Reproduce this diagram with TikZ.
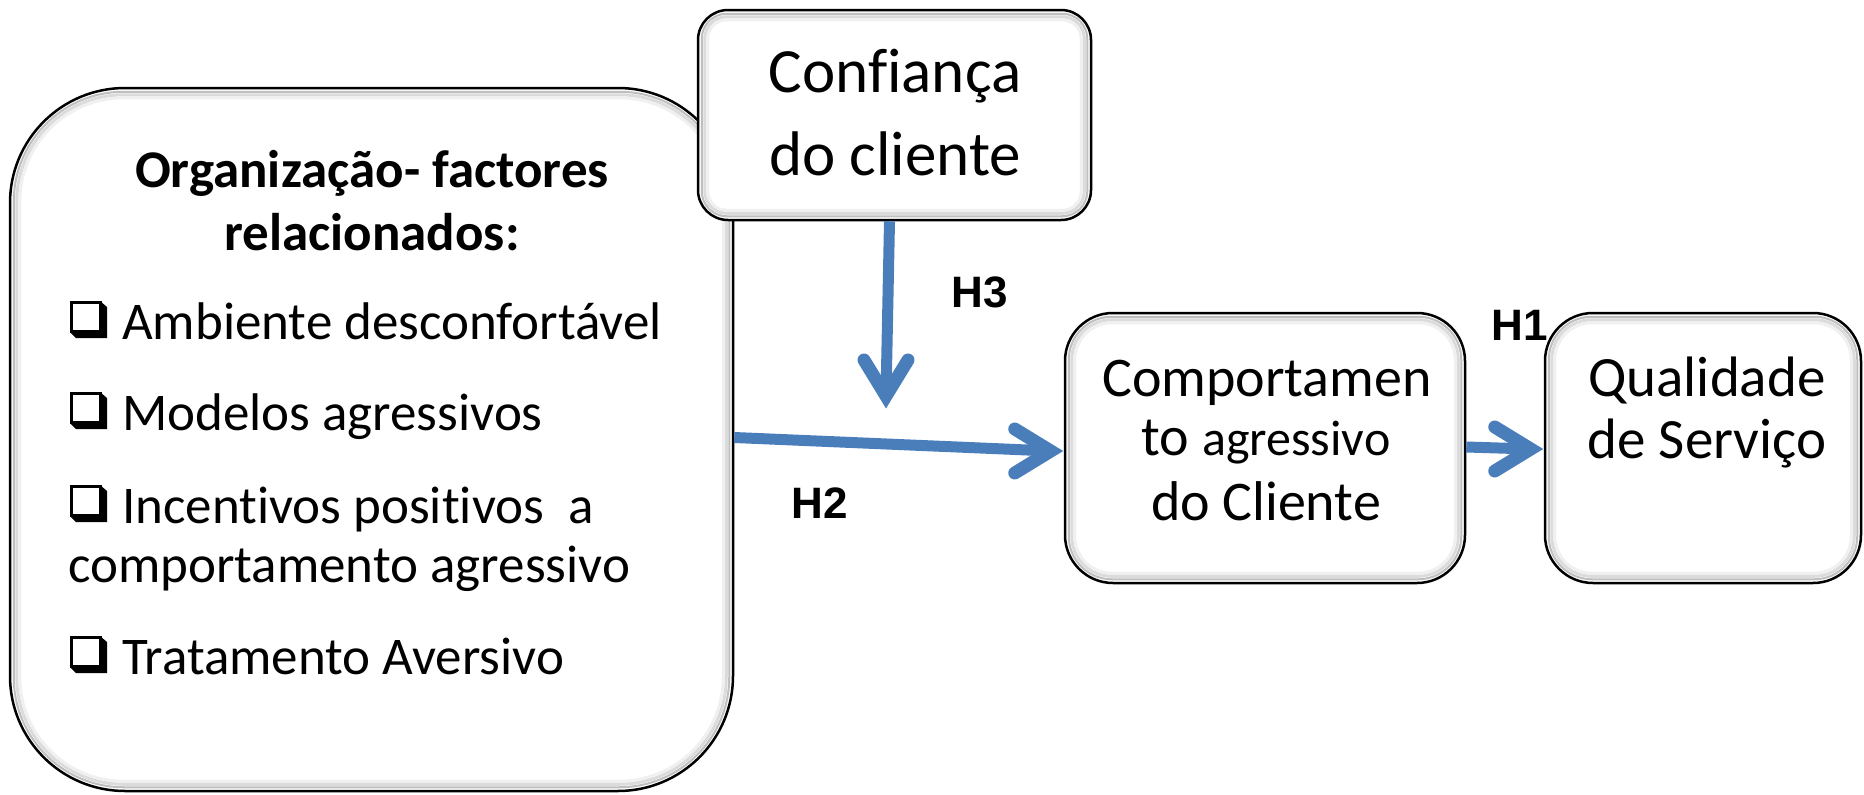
\documentclass[tikz,border=0pt]{standalone}
\usepackage{fontspec}
\setmainfont{Carlito}[Ligatures=NoCommon]
\newfontfamily\hfont{Liberation Sans}
\usetikzlibrary{calc}
\definecolor{arrowblue}{RGB}{74,126,187}
\newcommand\innershade[2]{%
  \foreach \d/\c/\w in {5/50/2,8/28/3,11/12/3}{%
    \draw[gray!\c, line width=\w pt, rounded corners=#2-\d]
      ([shift={(\d,\d)}]#1.north west) rectangle ([shift={(-\d,-\d)}]#1.south east);
  }%
}
\newcommand\cbox[2]{% left x, baseline y
  \fill[black] (#1+30,#2-38) -- (#1+37,#2-32) -- (#1+37,#2-1) -- (#1+6,#2-1) -- (#1,#2-7) -- cycle;
  \draw[line width=3pt, fill=white] (#1+1.5,#2-36.5) rectangle (#1+30,#2-8);
}
\begin{document}
\begin{tikzpicture}[x=1pt,y=-1pt,
  card/.style={draw=black, line width=2.5pt, fill=white, inner sep=0pt},
  txt/.style={inner sep=0pt, font=\fontsize{53}{60}\selectfont},
  bigtxt/.style={inner sep=0pt, font=\fontsize{56}{62}\selectfont},
  hlab/.style={inner sep=0pt, font=\fontsize{44}{48}\hfont\bfseries, anchor=base},
  shaft/.style={draw=arrowblue, line width=11pt},
  barb/.style={draw=arrowblue, line width=13pt, line cap=round, line join=miter, miter limit=4}]
\useasboundingbox (0,0) rectangle (1864,795);

% left box
\node[card, minimum width=723pt, minimum height=703pt, rounded corners=115pt] (org) at (371.5,439.5) {};
\innershade{org}{115}
\node[txt, anchor=base, font=\fontsize{53}{60}\selectfont\bfseries] (t1) at (372,187) {Organização- factores};
\node[txt, anchor=base, font=\fontsize{53}{60}\selectfont\bfseries] (t2) at (372,250) {relacionados:};
\cbox{70}{339}
\node[txt, anchor=base west] (i1) at (122,339) {Ambiente desconfortável};
\cbox{70}{430}
\node[txt, anchor=base west] (i2) at (122,430) {Modelos agressivos};
\cbox{70}{523}
\node[txt, anchor=base west] (i3) at (122,523) {Incentivos positivos\ \ a};
\node[txt, anchor=base west] (i4) at (68,582) {comportamento agressivo};
\cbox{70}{674}
\node[txt, anchor=base west] (i5) at (122,674) {Tratamento Aversivo};

% confianca box
\node[card, minimum width=393pt, minimum height=210pt, rounded corners=30pt] (conf) at (894.5,115) {};
\innershade{conf}{30}
\node[inner sep=0pt, anchor=base, font=\fontsize{63}{70}\selectfont] (c1) at (895,92) {Confiança};
\node[inner sep=0pt, anchor=base, font=\fontsize{63}{70}\selectfont] (c2) at (895,175) {do cliente};

% comportamento box
\node[card, minimum width=400pt, minimum height=270pt, rounded corners=48pt] (comp) at (1265,448) {};
\innershade{comp}{48}
\node[bigtxt, anchor=base] (p1) at (1267,396) {Comportamen};
\node[bigtxt, anchor=base] (p2) at (1266,455) {to {\fontsize{50}{56}\selectfont agressivo}};
\node[bigtxt, anchor=base] (p3) at (1266,520) {do Cliente};

% qualidade box
\node[card, minimum width=316pt, minimum height=270pt, rounded corners=48pt] (qual) at (1703,448) {};
\innershade{qual}{48}
\node[inner sep=0pt, anchor=base, font=\fontsize{57}{62}\selectfont] (q1) at (1707,396) {Qualidade};
\node[inner sep=0pt, anchor=base, font=\fontsize{57}{62}\selectfont] (q2) at (1707,458) {de Serviço};

% arrows
\coordinate (h3tip) at (886,396);
\draw[shaft] ([xshift=-5pt]conf.south) -- (h3tip);
\draw[barb] ($(h3tip)+(-22,-36)$) -- (h3tip) -- ($(h3tip)+(22,-36)$);

\coordinate (h2tip) at ($(comp.west)+(-13,3)$);
\draw[shaft] ([yshift=2pt]org.east) -- (h2tip);
\draw[barb] ($(h2tip)+(-36,-22)$) -- (h2tip) -- ($(h2tip)+(-36,22)$);

\coordinate (h1tip) at ($(qual.west)+(-13,1)$);
\draw[shaft] ([yshift=1pt]comp.east) -- (h1tip);
\draw[barb] ($(h1tip)+(-36,-22)$) -- (h1tip) -- ($(h1tip)+(-36,22)$);

% labels
\node[hlab] (h3) at (980,307) {H3};
\node[hlab] (h2) at (820,518) {H2};
\node[hlab] (h1) at (1520,340) {H1};
\end{tikzpicture}
\end{document}
